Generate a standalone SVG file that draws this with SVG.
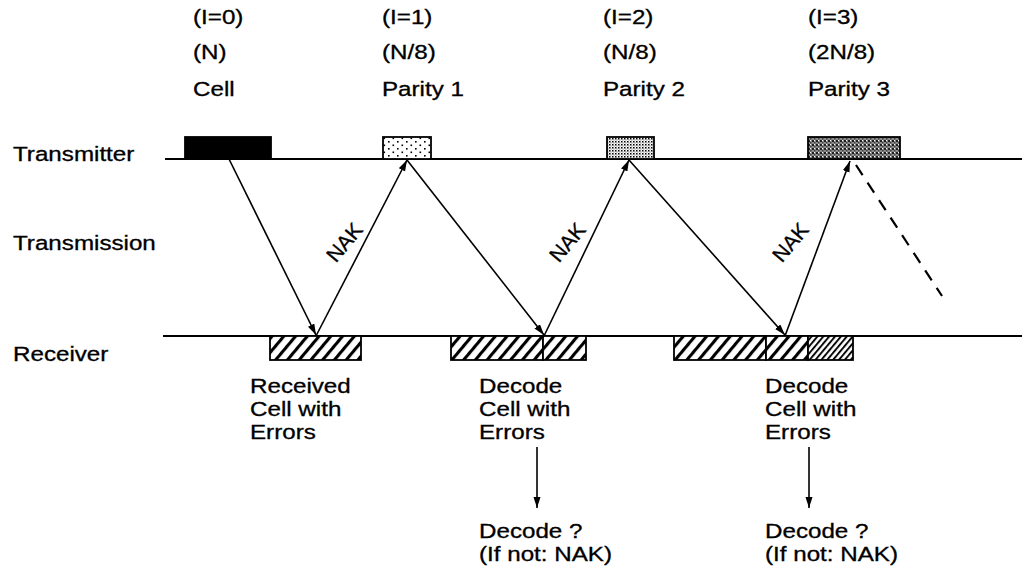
<svg xmlns="http://www.w3.org/2000/svg" width="1022" height="578" viewBox="0 0 1022 578">
  <style>
    text { font-family: "Liberation Sans", Arial, sans-serif; font-size: 19.5px; fill: #000; stroke: #000; stroke-width: 0.3; }
    .nak { font-size: 21px; }
    .axis { stroke: #000; stroke-width: 2; fill: none; }
    .box { stroke: #000; stroke-width: 1.8; }
    .conn { stroke: #000; stroke-width: 1.6; fill: none; marker-end: url(#head); }
    .dash { stroke: #000; stroke-width: 2.2; fill: none; stroke-dasharray: 12 9; }
  </style>
  <defs>
    <marker id="head" markerUnits="userSpaceOnUse" markerWidth="12" markerHeight="8" refX="11" refY="3.5" orient="auto">
      <path d="M0,0 L11,3.5 L0,7 z" fill="#000"/>
    </marker>
    <!-- diagonal hatch for received data -->
    <pattern id="hatch" width="9" height="9" patternUnits="userSpaceOnUse" patternTransform="rotate(40)">
      <rect width="9" height="9" fill="#fff"/>
      <line x1="1.5" y1="0" x2="1.5" y2="9" stroke="#000" stroke-width="3.2"/>
    </pattern>
    <pattern id="hatchFine" width="4.5" height="4.5" patternUnits="userSpaceOnUse" patternTransform="rotate(40)">
      <rect width="4.5" height="4.5" fill="#fff"/>
      <line x1="1" y1="0" x2="1" y2="4.5" stroke="#000" stroke-width="1.9"/>
    </pattern>
    <!-- stipple fills for the parity blocks -->
    <pattern id="dots" width="9" height="7" patternUnits="userSpaceOnUse">
      <rect width="9" height="7" fill="#fff"/>
      <rect x="1" y="1" width="1.6" height="1.6" fill="#000"/>
      <rect x="5.5" y="4.5" width="1.6" height="1.6" fill="#000"/>
    </pattern>
    <pattern id="stipple" width="3" height="3" patternUnits="userSpaceOnUse">
      <rect width="3" height="3" fill="#fff"/>
      <rect x="0" y="0" width="1.5" height="1.5" fill="#000"/>
      <rect x="1.5" y="1.5" width="1" height="1" fill="#555"/>
    </pattern>
    <pattern id="stippleDark" width="4" height="4" patternUnits="userSpaceOnUse">
      <rect width="4" height="4" fill="#8a8a8a"/>
      <rect x="0" y="0" width="2" height="2" fill="#222"/>
      <rect x="2" y="2" width="1.5" height="1.5" fill="#444"/>
      <rect x="2" y="0" width="1" height="1" fill="#fff"/>
    </pattern>
  </defs>

  <!-- time lines -->
  <g id="lanes">
    <line class="axis" x1="165" y1="159" x2="1022" y2="159"/>
    <line class="axis" x1="163" y1="336" x2="1022" y2="336"/>
    <text transform="translate(13 161) scale(1.24 1)">Transmitter</text>
    <text transform="translate(13 250) scale(1.24 1)">Transmission</text>
    <text transform="translate(13 361) scale(1.24 1)">Receiver</text>
  </g>

  <!-- transmitted blocks -->
  <g id="cell">
    <rect class="box" x="185" y="137" width="86" height="22" fill="#000"/>
    <text transform="translate(193 24) scale(1.24 1)">(I=0)</text>
    <text transform="translate(193 59) scale(1.24 1)">(N)</text>
    <text transform="translate(193 96) scale(1.24 1)">Cell</text>
  </g>
  <g id="parity1">
    <rect class="box" x="383" y="137" width="48" height="22" fill="url(#dots)"/>
    <text transform="translate(382 24) scale(1.24 1)">(I=1)</text>
    <text transform="translate(382 59) scale(1.24 1)">(N/8)</text>
    <text transform="translate(382 96) scale(1.24 1)">Parity 1</text>
  </g>
  <g id="parity2">
    <rect class="box" x="607" y="137" width="47" height="22" fill="url(#stipple)"/>
    <text transform="translate(603 24) scale(1.24 1)">(I=2)</text>
    <text transform="translate(603 59) scale(1.24 1)">(N/8)</text>
    <text transform="translate(603 96) scale(1.24 1)">Parity 2</text>
  </g>
  <g id="parity3">
    <rect class="box" x="808" y="137" width="92" height="22" fill="url(#stippleDark)"/>
    <text transform="translate(808 24) scale(1.24 1)">(I=3)</text>
    <text transform="translate(808 59) scale(1.24 1)">(2N/8)</text>
    <text transform="translate(808 96) scale(1.24 1)">Parity 3</text>
  </g>

  <!-- received blocks -->
  <g id="rx1">
    <rect class="box" x="270" y="336" width="91" height="24" fill="url(#hatch)"/>
    <text transform="translate(250 393) scale(1.24 1)">Received</text>
    <text transform="translate(250 416) scale(1.24 1)">Cell with</text>
    <text transform="translate(250 439) scale(1.24 1)">Errors</text>
  </g>
  <g id="rx2">
    <rect class="box" x="451" y="336" width="92" height="24" fill="url(#hatch)"/>
    <rect class="box" x="543" y="336" width="43" height="24" fill="url(#hatch)"/>
    <text transform="translate(479 393) scale(1.24 1)">Decode</text>
    <text transform="translate(479 416) scale(1.24 1)">Cell with</text>
    <text transform="translate(479 439) scale(1.24 1)">Errors</text>
    <text transform="translate(479 538) scale(1.24 1)">Decode ?</text>
    <text transform="translate(479 561) scale(1.24 1)">(If not: NAK)</text>
  </g>
  <g id="rx3">
    <rect class="box" x="674" y="336" width="92" height="24" fill="url(#hatch)"/>
    <rect class="box" x="766" y="336" width="42" height="24" fill="url(#hatch)"/>
    <rect class="box" x="808" y="336" width="45" height="24" fill="url(#hatchFine)"/>
    <text transform="translate(765 393) scale(1.24 1)">Decode</text>
    <text transform="translate(765 416) scale(1.24 1)">Cell with</text>
    <text transform="translate(765 439) scale(1.24 1)">Errors</text>
    <text transform="translate(765 538) scale(1.24 1)">Decode ?</text>
    <text transform="translate(765 561) scale(1.24 1)">(If not: NAK)</text>
  </g>

  <!-- transmissions and NAK feedback -->
  <g id="connectors">
    <line class="conn" x1="229" y1="159" x2="316" y2="335"/>
    <line class="conn" x1="316" y1="336" x2="407" y2="160"/>
    <line class="conn" x1="407" y1="160" x2="544" y2="335"/>
    <line class="conn" x1="544" y1="336" x2="629" y2="160"/>
    <line class="conn" x1="629" y1="160" x2="785" y2="335"/>
    <line class="conn" x1="785" y1="336" x2="850" y2="161"/>
    <line class="dash" x1="856" y1="165" x2="942" y2="296"/>
    <line class="conn" x1="537" y1="447" x2="537" y2="508"/>
    <line class="conn" x1="809" y1="447" x2="809" y2="508"/>
    <text class="nak" text-anchor="middle" transform="translate(350 247) rotate(-50)">NAK</text>
    <text class="nak" text-anchor="middle" transform="translate(573 247) rotate(-50)">NAK</text>
    <text class="nak" text-anchor="middle" transform="translate(796 247) rotate(-50)">NAK</text>
  </g>
</svg>
